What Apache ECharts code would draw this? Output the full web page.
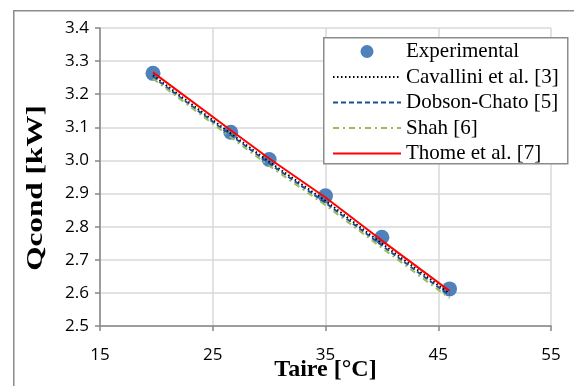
<!DOCTYPE html>
<html>
<head>
<meta charset="utf-8">
<script src="https://cdn.jsdelivr.net/npm/echarts@6/dist/echarts.min.js"></script>
<style>html,body{margin:0;padding:0;background:#fff}#c{width:574px;height:386px}</style>
</head>
<body>
<div id="c"></div>
<script>
var taire = [19.7, 26.6, 30.0, 35.0, 40.0, 46.0];
var experimental = [3.263, 3.085, 3.003, 2.893, 2.768, 2.612];
var cavallini = [3.257, 3.081, 2.996, 2.878, 2.749, 2.598];
var dobson = [3.252, 3.076, 2.991, 2.872, 2.743, 2.592];
var shah = [3.247, 3.070, 2.984, 2.865, 2.736, 2.584];
var thome = [3.266, 3.091, 3.006, 2.888, 2.758, 2.606];
var seriesNames = ['Experimental', 'Cavallini et al. [3]', 'Dobson-Chato [5]', 'Shah [6]', 'Thome et al. [7]'];
var xTitle = 'Taire [°C]';
var yTitle = 'Qcond [kW]';

function pairs(ys) { return taire.map(function (x, i) { return [x, ys[i]]; }); }

var chart = echarts.init(document.getElementById('c'), null, {renderer: 'canvas'});
var tickFont = {fontFamily: 'Open Sans', fontSize: 17, color: '#000'};
chart.setOption({
  animation: false,
  backgroundColor: '#fff',
  graphic: [{
    type: 'rect', left: 13, top: 10, z: -10, silent: true,
    shape: {width: 600, height: 400},
    style: {fill: '#fff', stroke: '#8c8c8c', lineWidth: 1.5}
  }, {
    type: 'rect', left: 323, top: 37, z: 3, silent: true,
    shape: {width: 244, height: 126},
    style: {fill: '#fff', stroke: '#8c8c8c', lineWidth: 1.5}
  }, {
    type: 'text', x: 36, y: 188, rotation: Math.PI / 2, scaleX: 1.3, silent: true, z: 10,
    style: {text: yTitle, font: 'bold 24px "Liberation Serif"', fill: '#000', align: 'center', verticalAlign: 'middle'}
  }],
  grid: {left: 100, top: 28, right: 23, bottom: 60, outerBoundsMode: 'none', containLabel: false},
  xAxis: {
    type: 'value', min: 15, max: 55, interval: 10,
    name: xTitle, nameLocation: 'middle', nameGap: 32, nameMoveOverlap: false,
    nameTextStyle: {fontFamily: 'Liberation Serif', fontWeight: 'bold', fontSize: 24, color: '#000'},
    axisLine: {show: true, onZero: false, lineStyle: {color: '#868686', width: 1.5}},
    axisTick: {show: true, length: 5, lineStyle: {color: '#868686', width: 1.5}},
    axisLabel: Object.assign({margin: 21}, tickFont),
    splitLine: {show: true, lineStyle: {color: '#d9d9d9', width: 1.5}}
  },
  yAxis: {
    type: 'value', min: 2.5, max: 3.4, interval: 0.1,
    axisLine: {show: true, lineStyle: {color: '#868686', width: 1.5}},
    axisTick: {show: true, length: 5, lineStyle: {color: '#868686', width: 1.5}},
    axisLabel: Object.assign({margin: 11, formatter: function (v) { return v.toFixed(1); }}, tickFont),
    splitLine: {show: true, lineStyle: {color: '#d9d9d9', width: 1.5}}
  },
  legend: {
    orient: 'vertical', left: 323, top: 38, z: 5,
    padding: [3, 0, 2, 9], itemGap: 4.5, itemWidth: 68, itemHeight: 13,
    textStyle: {fontFamily: 'Liberation Serif', fontSize: 21, color: '#000', lineHeight: 21},
    data: seriesNames.map(function (n, i) {
      return i === 0 ? {name: n} : {name: n, itemStyle: {opacity: 0}};
    })
  },
  series: [
    {name: seriesNames[0], type: 'scatter', data: pairs(experimental), symbol: 'circle', symbolSize: 15,
     itemStyle: {color: '#4f81bd', opacity: 1}, z: 1},
    {name: seriesNames[1], type: 'line', data: pairs(cavallini), showSymbol: false, symbol: 'none',
     lineStyle: {color: '#000', width: 2, type: [1.5, 2.5]}, itemStyle: {color: '#000'}, z: 2},
    {name: seriesNames[2], type: 'line', data: pairs(dobson), showSymbol: false, symbol: 'none',
     lineStyle: {color: '#1f4e96', width: 2, type: [5, 3]}, itemStyle: {color: '#1f4e96'}, z: 3},
    {name: seriesNames[3], type: 'line', data: pairs(shah), showSymbol: false, symbol: 'none',
     lineStyle: {color: '#9bbb59', width: 2, type: [6, 4, 2, 4]}, itemStyle: {color: '#9bbb59'}, z: 4},
    {name: seriesNames[4], type: 'line', data: pairs(thome), showSymbol: false, symbol: 'none',
     lineStyle: {color: '#ff0000', width: 2, type: 'solid'}, itemStyle: {color: '#ff0000'}, z: 5}
  ]
});
</script>
</body>
</html>
